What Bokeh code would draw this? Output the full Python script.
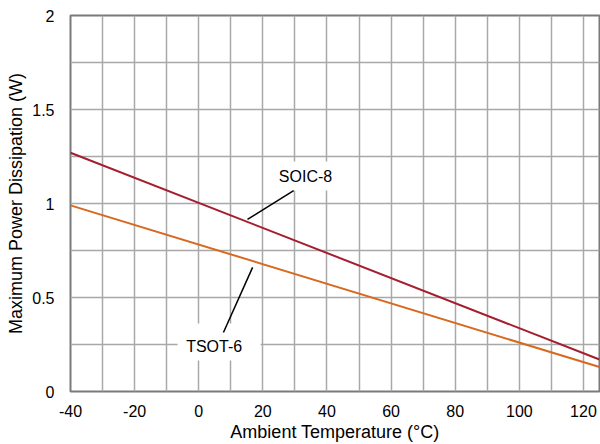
from bokeh.plotting import figure
from bokeh.models import FixedTicker, CustomJSTickFormatter, Range1d
from bokeh.core.properties import value
from bokeh.embed import file_html
from bokeh.resources import INLINE

# Data
temps = [-40, 125]
soic8_power = [1.27, 0.17]
tsot6_power = [0.99, 0.13]

x_ticks = [-40, -20, 0, 20, 40, 60, 80, 100, 120]
x_grid = list(range(-40, 130, 10))
y_ticks = [0, 0.5, 1, 1.5, 2]
y_grid = [0, 0.25, 0.5, 0.75, 1, 1.25, 1.5, 1.75, 2]

labels = ["SOIC-8", "TSOT-6"]
label_x = [33.3, 4.8]
label_y = [1.144, 0.242]
box_left = [20.5, -6.6]
box_right = [47.3, 19.3]
box_bottom = [1.069, 0.165]
box_top = [1.223, 0.362]
leader_x0 = [29.6, 7.7]
leader_y0 = [1.069, 0.314]
leader_x1 = [15.2, 16.8]
leader_y1 = [0.915, 0.660]

RED = "#A51E30"
ORANGE = "#D8681E"
GRID = "#A8A8A8"
FRAME = "#7A7A7A"
FONT = "Liberation Sans"

p = figure(width=600, height=444, output_backend="svg", toolbar_location=None,
           x_range=Range1d(-40, 125), y_range=Range1d(0, 2),
           min_border_left=70, min_border_right=1, min_border_top=15, min_border_bottom=53)
p.background_fill_color = "white"
p.border_fill_color = "white"
p.outline_line_color = FRAME
p.outline_line_width = 2

p.xaxis.ticker = FixedTicker(ticks=x_ticks)
p.yaxis.ticker = FixedTicker(ticks=y_ticks)
p.xaxis.formatter = CustomJSTickFormatter(code="return tick.toString();")
p.yaxis.formatter = CustomJSTickFormatter(code="return tick.toString();")
p.xgrid.ticker = FixedTicker(ticks=x_grid)
p.ygrid.ticker = FixedTicker(ticks=y_grid)
for g in (p.xgrid, p.ygrid):
    g.grid_line_color = GRID
    g.grid_line_width = 1.5

for ax in (p.xaxis, p.yaxis):
    ax.axis_line_color = None
    ax.major_tick_line_color = None
    ax.minor_tick_line_color = None
    ax.major_tick_out = 0
    ax.minor_tick_out = 0
    ax.major_label_text_font = FONT
    ax.major_label_text_font_size = "16px"
    ax.major_label_text_color = "black"
    ax.axis_label_text_font = FONT
    ax.axis_label_text_font_size = "18px"
    ax.axis_label_text_font_style = "normal"
    ax.axis_label_text_color = "black"

p.xaxis.axis_label = "Ambient Temperature (°C)"
p.yaxis.axis_label = "Maximum Power Dissipation (W)"
p.xaxis.major_label_standoff = 13
p.yaxis.major_label_standoff = 16
p.xaxis.axis_label_standoff = 2
p.yaxis.axis_label_standoff = 3

# white label boxes
p.quad(left=box_left, right=box_right, bottom=box_bottom, top=box_top,
       fill_color="white", line_color=None)

p.line(temps, soic8_power, line_color=RED, line_width=2)
p.line(temps, tsot6_power, line_color=ORANGE, line_width=2)

p.segment(x0=leader_x0, y0=leader_y0, x1=leader_x1, y1=leader_y1,
          line_color="black", line_width=1.5)

p.text(x=label_x, y=label_y, text=labels, text_align="center", text_baseline="middle",
       text_font=value(FONT), text_font_size="16px", text_color="black")

open("out.html", "w").write(file_html(p, INLINE))
